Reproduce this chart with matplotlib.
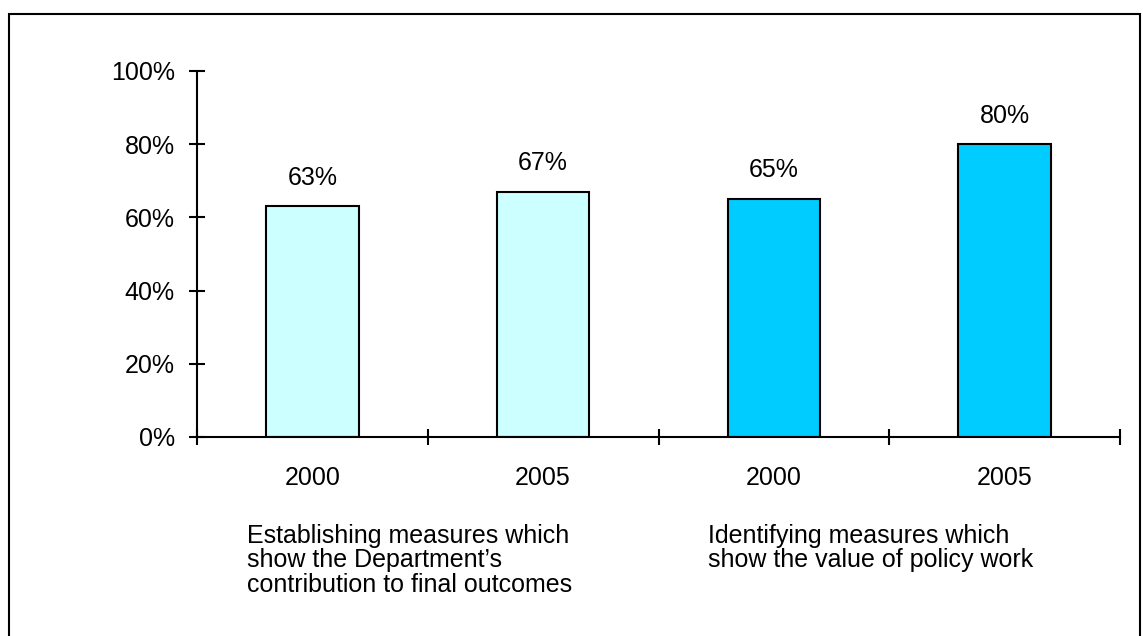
import matplotlib
matplotlib.use('Agg')
from matplotlib import pyplot as plt
from matplotlib.patches import Rectangle
import numpy as np

plt.rcParams['font.family'] = ['Liberation Sans', 'DejaVu Sans']

years = ['2000', '2005', '2000', '2005']
values = [63, 67, 65, 80]
bar_colors = ['#CCFFFF', '#CCFFFF', '#00CCFF', '#00CCFF']
group_labels = ['Establishing measures which\nshow the Department\u2019s\ncontribution to final outcomes',
                'Identifying measures which\nshow the value of policy work']
y_ticks = [0, 20, 40, 60, 80, 100]

fig = plt.figure(figsize=(11.43, 6.36), dpi=100)
ax = fig.add_axes([197 / 1143, 1 - 437 / 636, (1120 - 197) / 1143, (437 - 71) / 636])

x = np.arange(len(values))
bars = ax.bar(x, values, width=0.4, color=bar_colors, edgecolor='black', linewidth=1.5, zorder=2)
for b, v in zip(bars, values):
    ax.annotate('%d%%' % v, (b.get_x() + b.get_width() / 2, v), xytext=(0, 12),
                textcoords='offset points', ha='center', va='bottom', fontsize=18)

ax.set_xlim(-0.5, len(values) - 0.5)
ax.set_ylim(0, 100)
ax.set_yticks(y_ticks)
ax.set_yticklabels(['%d%%' % t for t in y_ticks], fontsize=18)
ax.set_xticks(x)
ax.set_xticklabels(years, fontsize=18)
ax.set_xticks(np.arange(-0.5, len(values)), minor=True)

for s in ['top', 'right']:
    ax.spines[s].set_visible(False)
ax.spines['left'].set_linewidth(1.5)
ax.spines['bottom'].set_linewidth(1.5)
ax.tick_params(axis='y', direction='inout', length=12, width=1.5, pad=10)
ax.tick_params(axis='x', which='major', length=0, pad=21)
ax.tick_params(axis='x', which='minor', direction='inout', length=12, width=1.5)

# category descriptions under the years
fig.text(247 / 1143, 1 - 524 / 636, group_labels[0], ha='left', va='top', fontsize=18, linespacing=1.02)
fig.text(708 / 1143, 1 - 524 / 636, group_labels[1], ha='left', va='top', fontsize=18, linespacing=1.02)

# outer frame
fig.patches.append(Rectangle((9 / 1143, -0.05), (1140 - 9) / 1143, 1.05 - 14 / 636,
                             transform=fig.transFigure, fill=False, edgecolor='black',
                             linewidth=1.5, clip_on=False))

fig.savefig('out.png', dpi=100)
